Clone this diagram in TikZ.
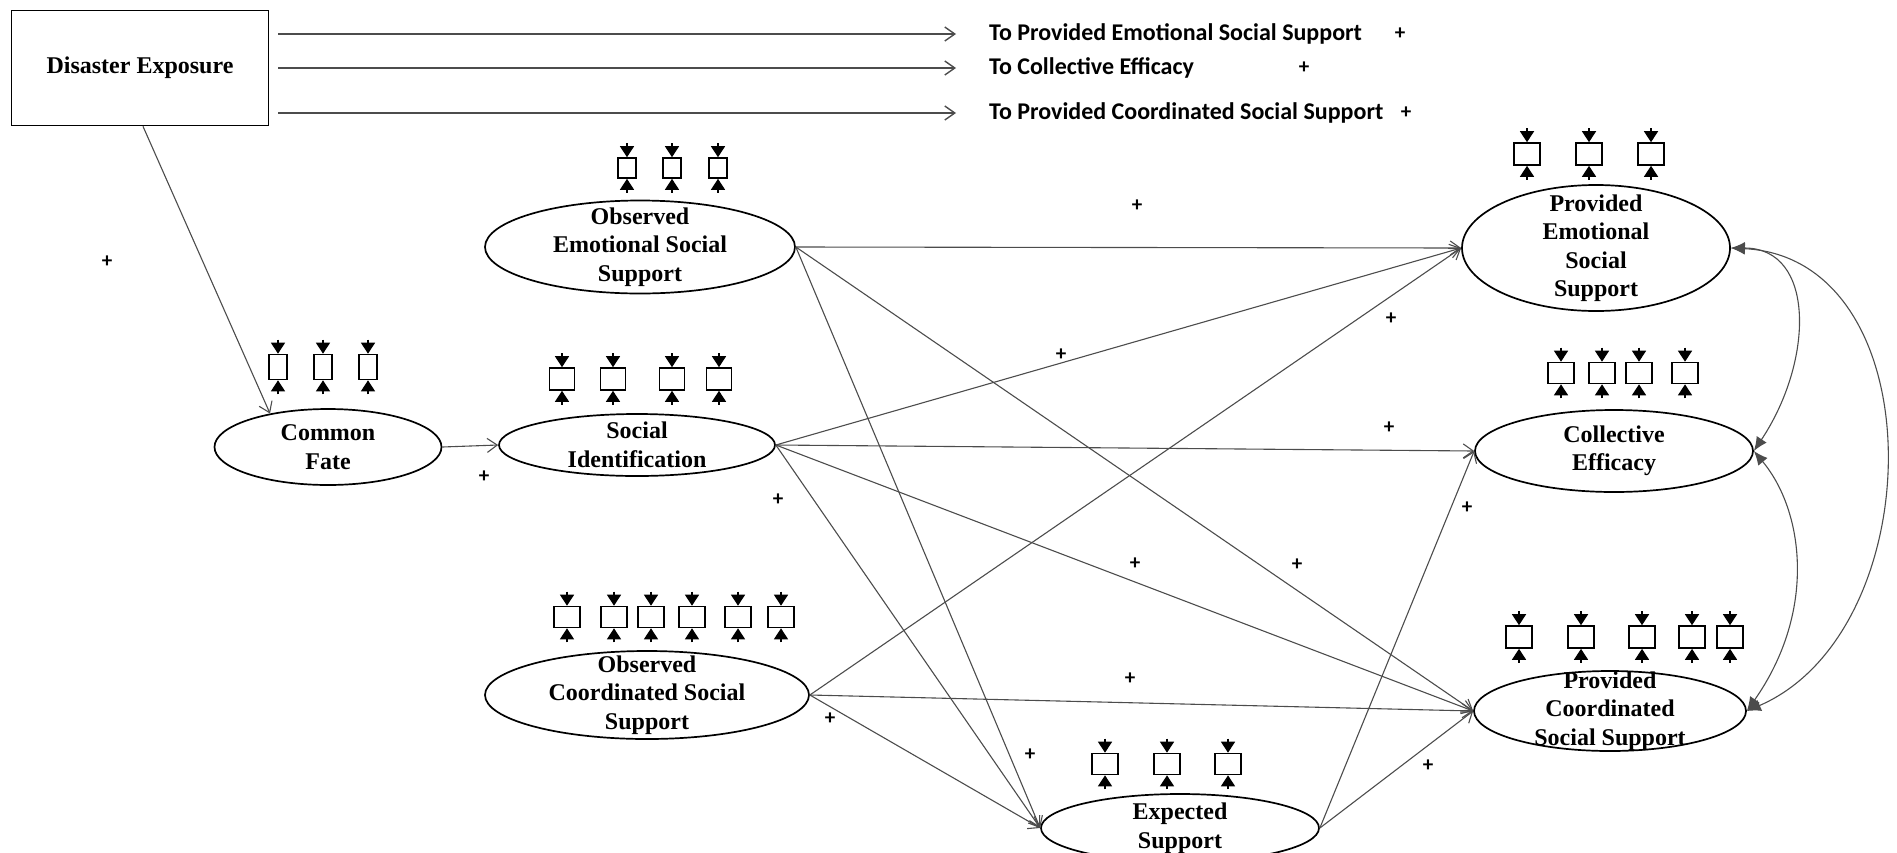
\documentclass[tikz,border=0pt]{standalone}
\usepackage{fontspec}
\setmainfont{Liberation Serif}
\newfontfamily\calfont{Carlito}
\usetikzlibrary{arrows.meta,shapes.geometric}

% observed indicators: prefix, y, width, height, list of x
\newcommand{\indicators}[5]{%
  \foreach \x [count=\i] in {#5} {
    \node[item,minimum width=#3,minimum height=#4] (#1\i) at (\x,#2) {};
    \draw[err] ([yshift=14pt]#1\i.north) -- (#1\i.north);
    \draw[err] ([yshift=-14pt]#1\i.south) -- (#1\i.south);
  }}

\begin{document}
\begin{tikzpicture}[x=1pt,y=-1pt]
	 \tikzstyle{latent}=[draw,ellipse,line width=1.7pt,inner sep=0pt]
	 \tikzstyle{vartext}=[align=center,inner sep=0pt,font=\fontsize{24}{28.5}\selectfont\bfseries]
	 \tikzstyle{item}=[draw,line width=1.6pt,inner sep=0pt]
	 \tikzstyle{err}=[-{Triangle[length=11pt,width=14pt]},line width=1.4pt]
	 \tikzstyle{link}=[draw,line width=1.1pt,black!70,-{Straight Barb[length=10pt,width=14pt]}]
	 \tikzstyle{cov}=[draw,line width=1.1pt,black!70,{Latex[length=14pt,width=12pt]}-{Latex[length=14pt,width=12pt]}]
	 \tikzstyle{sign}=[inner sep=0pt,font=\calfont\bfseries\fontsize{21}{21}\selectfont]
	 \tikzstyle{note}=[anchor=west,inner sep=0pt,font=\calfont\bfseries\fontsize{24}{28}\selectfont]
	 \useasboundingbox (0,0) rectangle (1897,852);
	 % exposure box and its three paths
	 \node[draw,line width=1.7pt,minimum width=257pt,minimum height=115pt,vartext] (DE) at (140,68) {Disaster Exposure};
	 \node[note] (T1) at (989,34) {To Provided Emotional Social Support};
	 \node[note] (T2) at (989,68) {To Collective Efficacy};
	 \node[note] (T3) at (989,113) {To Provided Coordinated Social Support};
	 % latent variables
	 \node[latent,minimum width=227pt,minimum height=76pt] (CF) at (328,447) {};
	 \node[latent,minimum width=310pt,minimum height=93pt] (OESS) at (640,247) {};
	 \node[latent,minimum width=276pt,minimum height=62pt] (SI) at (637,445) {};
	 \node[latent,minimum width=324pt,minimum height=88pt] (OCSS) at (647,695) {};
	 \node[latent,minimum width=278pt,minimum height=68pt] (ES) at (1180,828) {};
	 \node[latent,minimum width=268pt,minimum height=126pt] (PESS) at (1596,248) {};
	 \node[latent,minimum width=278pt,minimum height=82pt] (CE) at (1614,451) {};
	 \node[latent,minimum width=272pt,minimum height=80pt] (PCSS) at (1610,711) {};
	 \node[vartext] (CF-t) at (CF) {Common\\Fate};
	 \node[vartext] (OESS-t) at (OESS) {Observed\\Emotional Social\\Support};
	 \node[vartext] (SI-t) at (SI) {Social\\Identification};
	 \node[vartext] (OCSS-t) at (OCSS) {Observed\\Coordinated Social\\Support};
	 \node[vartext] (ES-t) at (ES) {Expected\\Support};
	 \node[vartext] (PESS-t) at (PESS) {Provided\\Emotional\\Social\\Support};
	 \node[vartext] (CE-t) at (CE) {Collective\\Efficacy};
	 \node[vartext] (PCSS-t) at (PCSS) {Provided\\Coordinated\\Social Support};
	 % indicators
	 \indicators{cf}{367}{18pt}{25pt}{278,323,368}
	 \indicators{oe}{168}{18pt}{20pt}{627,672,718}
	 \indicators{si}{379}{25pt}{22pt}{562,613,672,719}
	 \indicators{oc}{617}{26pt}{21pt}{567,614,651,692,738,781}
	 \indicators{es}{764}{26pt}{21pt}{1105,1167,1228}
	 \indicators{pe}{154}{26pt}{22pt}{1527,1589,1651}
	 \indicators{ce}{373}{26pt}{21pt}{1561,1602,1639,1685}
	 \indicators{pc}{637}{26pt}{22pt}{1519,1581,1642,1692,1730}
	 % paths
	 \draw[link,line width=1.4pt,shorten <=9pt,shorten >=33pt] (DE.east |- T1.west) -- (T1.west);
	 \draw[link,line width=1.4pt,shorten <=9pt,shorten >=33pt] (DE.east |- T2.west) -- (T2.west);
	 \draw[link,line width=1.4pt,shorten <=9pt,shorten >=33pt] (DE.east |- T3.west) -- (T3.west);
	 \draw[link] ([xshift=3pt]DE.south) -- (CF.150);
	 \draw[link] (CF.east) -- (SI.west);
	 \draw[link] (OESS.east) -- (PESS.west);
	 \draw[link] (OESS.east) -- (PCSS.west);
	 \draw[link] (OESS.east) -- (ES.west);
	 \draw[link] (SI.east) -- (PESS.west);
	 \draw[link] (SI.east) -- (CE.west);
	 \draw[link] (SI.east) -- (PCSS.west);
	 \draw[link] (SI.east) -- (ES.west);
	 \draw[link] (OCSS.east) -- (PESS.west);
	 \draw[link] (OCSS.east) -- (PCSS.west);
	 \draw[link] (OCSS.east) -- (ES.west);
	 \draw[link] (ES.east) -- (CE.west);
	 \draw[link] (ES.east) -- (PCSS.west);
	 % covariances
	 \draw[cov] (PESS.east) .. controls +(85,0) and +(60,-90) .. (CE.east);
	 \draw[cov] (CE.east) .. controls +(50,60) and +(70,-100) .. (PCSS.east);
	 \draw[cov] (PESS.east) .. controls +(205,10) and +(185,-80) .. (PCSS.east);
	 % signs
	 \node[sign] (p1) at (1400,34) {+};
	 \node[sign] (p2) at (1304,68) {+};
	 \node[sign] (p3) at (1406,113) {+};
	 \node[sign] (p4) at (107,262) {+};
	 \node[sign] (p5) at (484,477) {+};
	 \node[sign] (p6) at (1137,206) {+};
	 \node[sign] (p7) at (1061,355) {+};
	 \node[sign] (p8) at (1391,319) {+};
	 \node[sign] (p9) at (1389,428) {+};
	 \node[sign] (p10) at (778,500) {+};
	 \node[sign] (p11) at (1135,564) {+};
	 \node[sign] (p12) at (1297,565) {+};
	 \node[sign] (p13) at (1467,508) {+};
	 \node[sign] (p14) at (1130,679) {+};
	 \node[sign] (p15) at (830,719) {+};
	 \node[sign] (p16) at (1030,755) {+};
	 \node[sign] (p17) at (1428,766) {+};
\end{tikzpicture}
\end{document}
